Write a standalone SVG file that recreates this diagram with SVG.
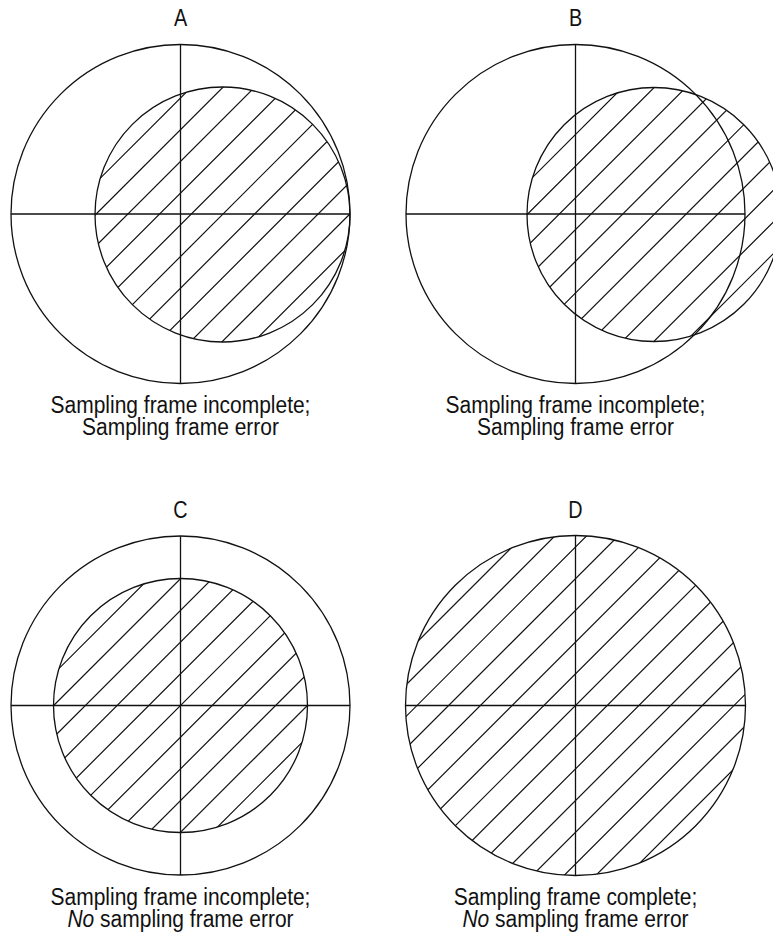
<svg xmlns="http://www.w3.org/2000/svg" xmlns:xlink="http://www.w3.org/1999/xlink" width="773" height="945" viewBox="0 0 773 945">
<style>
.ln{fill:none;stroke:#111;stroke-width:1.3}
.h{fill:none;stroke:#111;stroke-width:1.2}
.lbl{font-family:"Liberation Sans",Arial,sans-serif;font-size:22px;fill:#111;text-anchor:middle}
.it{font-style:italic}
</style>
<defs>
<g id="hatchLines" class="h">
<path d="M-78.6,-175L-428.6,175M-46.9,-175L-396.9,175M-15.2,-175L-365.2,175M16.5,-175L-333.5,175M48.2,-175L-301.8,175M79.9,-175L-270.1,175M111.6,-175L-238.4,175M143.3,-175L-206.7,175M175,-175L-175,175M206.7,-175L-143.3,175M238.4,-175L-111.6,175M270.1,-175L-79.9,175M301.8,-175L-48.2,175M333.5,-175L-16.5,175M365.2,-175L15.2,175M396.9,-175L46.9,175M428.6,-175L78.6,175"/>
</g>
<clipPath id="cA"><circle cx="222.5" cy="214.5" r="127.5"/></clipPath>
<clipPath id="cB"><circle cx="654" cy="214.5" r="127"/></clipPath>
<clipPath id="cC"><circle cx="180.5" cy="705.5" r="127"/></clipPath>
<clipPath id="cD"><circle cx="575.5" cy="705.5" r="170"/></clipPath>
</defs>

<g id="panelA">
<text class="lbl" transform="translate(180.5,26) scale(0.9,1.05)">A</text>
<g clip-path="url(#cA)"><use xlink:href="#hatchLines" x="222.5" y="214.5"/></g>
<circle class="ln" cx="180.5" cy="214" r="169.5"/>
<circle class="ln" cx="222.5" cy="214.5" r="127.5"/>
<path class="ln" d="M180.5,44.5V383.5M11,214H350"/>
<text class="lbl" transform="translate(180.5,413) scale(0.954,1.05)">Sampling frame incomplete;</text>
<text class="lbl" transform="translate(180.5,435) scale(0.954,1.05)">Sampling frame error</text>
</g>

<g id="panelB">
<text class="lbl" transform="translate(575.5,26) scale(0.9,1.05)">B</text>
<g clip-path="url(#cB)"><use xlink:href="#hatchLines" x="654" y="214.5"/></g>
<circle class="ln" cx="575.5" cy="214" r="169.5"/>
<circle class="ln" cx="654" cy="214.5" r="127"/>
<path class="ln" d="M575.5,44.5V383.5M406,214H745"/>
<text class="lbl" transform="translate(575.5,413) scale(0.954,1.05)">Sampling frame incomplete;</text>
<text class="lbl" transform="translate(575.5,435) scale(0.954,1.05)">Sampling frame error</text>
</g>

<g id="panelC">
<text class="lbl" transform="translate(180.5,518) scale(0.9,1.05)">C</text>
<g clip-path="url(#cC)"><use xlink:href="#hatchLines" x="180.5" y="705.5"/></g>
<circle class="ln" cx="180.5" cy="705.5" r="169.5"/>
<circle class="ln" cx="180.5" cy="705.5" r="127"/>
<path class="ln" d="M180.5,536V875M11,705.5H350"/>
<text class="lbl" transform="translate(180.5,905) scale(0.954,1.05)">Sampling frame incomplete;</text>
<text class="lbl" transform="translate(180.5,927) scale(0.954,1.05)"><tspan class="it">No</tspan> sampling frame error</text>
</g>

<g id="panelD">
<text class="lbl" transform="translate(575.5,518) scale(0.9,1.05)">D</text>
<g clip-path="url(#cD)"><use xlink:href="#hatchLines" x="575.5" y="705.5"/></g>
<circle class="ln" cx="575.5" cy="705.5" r="170"/>
<path class="ln" d="M575.5,535.5V875.5M405.5,705.5H745.5"/>
<text class="lbl" transform="translate(575.5,905) scale(0.954,1.05)">Sampling frame complete;</text>
<text class="lbl" transform="translate(575.5,927) scale(0.954,1.05)"><tspan class="it">No</tspan> sampling frame error</text>
</g>
</svg>
